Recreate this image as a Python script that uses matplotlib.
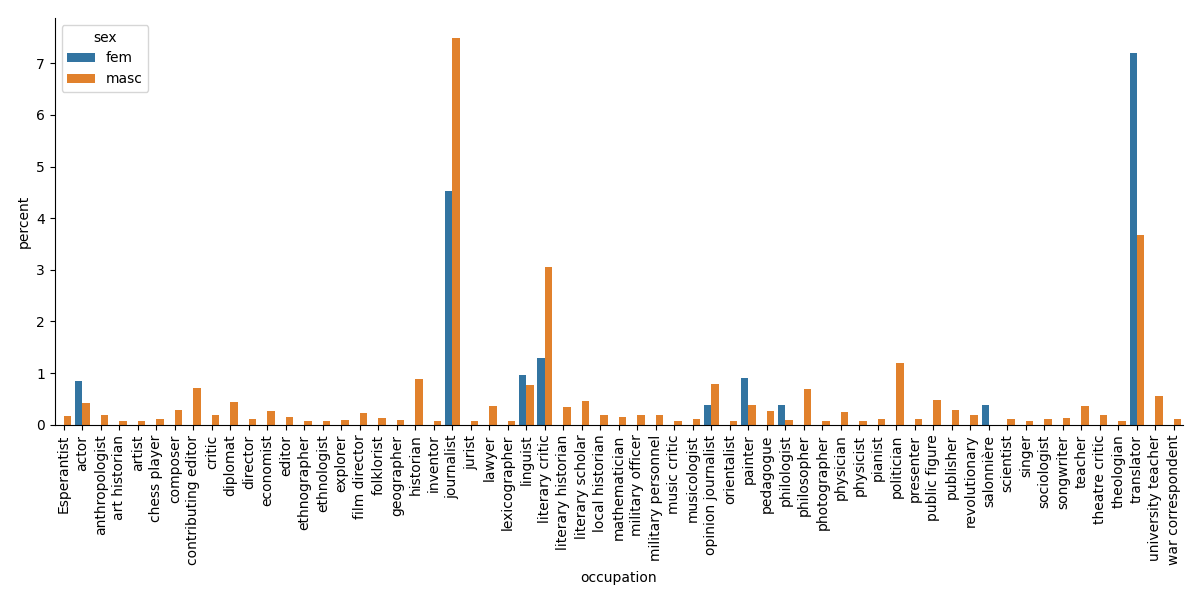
import matplotlib
matplotlib.use("Agg")
import matplotlib.pyplot as plt
import numpy as np

occupations = ["Esperantist", "actor", "anthropologist", "art historian", "artist", "chess player",
               "composer", "contributing editor", "critic", "diplomat", "director", "economist",
               "editor", "ethnographer", "ethnologist", "explorer", "film director", "folklorist",
               "geographer", "historian", "inventor", "journalist", "jurist", "lawyer",
               "lexicographer", "linguist", "literary critic", "literary historian", "literary scholar",
               "local historian", "mathematician", "military officer", "military personnel",
               "music critic", "musicologist", "opinion journalist", "orientalist", "painter",
               "pedagogue", "philologist", "philosopher", "photographer", "physician", "physicist",
               "pianist", "politician", "presenter", "public figure", "publisher", "revolutionary",
               "salonnière", "scientist", "singer", "sociologist", "songwriter", "teacher",
               "theatre critic", "theologian", "translator", "university teacher", "war correspondent"]

fem_values = {"actor": 0.85, "journalist": 4.53, "linguist": 0.97, "literary critic": 1.30,
              "opinion journalist": 0.39, "painter": 0.91, "philologist": 0.39,
              "salonnière": 0.39, "translator": 7.19}

masc_values = {"Esperantist": 0.17, "actor": 0.43, "anthropologist": 0.19, "art historian": 0.077,
               "artist": 0.077, "chess player": 0.116, "composer": 0.29, "contributing editor": 0.72,
               "critic": 0.19, "diplomat": 0.445, "director": 0.116, "economist": 0.27,
               "editor": 0.155, "ethnographer": 0.077, "ethnologist": 0.077, "explorer": 0.097,
               "film director": 0.23, "folklorist": 0.135, "geographer": 0.097, "historian": 0.89,
               "inventor": 0.077, "journalist": 7.49, "jurist": 0.077, "lawyer": 0.37,
               "lexicographer": 0.077, "linguist": 0.77, "literary critic": 3.06,
               "literary historian": 0.35, "literary scholar": 0.46, "local historian": 0.19,
               "mathematician": 0.155, "military officer": 0.19, "military personnel": 0.19,
               "music critic": 0.077, "musicologist": 0.116, "opinion journalist": 0.79,
               "orientalist": 0.077, "painter": 0.39, "pedagogue": 0.27, "philologist": 0.097,
               "philosopher": 0.70, "photographer": 0.077, "physician": 0.25, "physicist": 0.077,
               "pianist": 0.116, "politician": 1.20, "presenter": 0.116, "public figure": 0.48,
               "publisher": 0.29, "revolutionary": 0.19, "scientist": 0.116, "singer": 0.077,
               "sociologist": 0.116, "songwriter": 0.135, "teacher": 0.37, "theatre critic": 0.19,
               "theologian": 0.077, "translator": 3.67, "university teacher": 0.56,
               "war correspondent": 0.116}

sexes = ["fem", "masc"]
colors = ["#3274a1", "#e1812c"]

fig, ax = plt.subplots(figsize=(12, 6), dpi=100)
x = np.arange(len(occupations))
w = 0.4
for i, (s, vals, c) in enumerate(zip(sexes, [fem_values, masc_values], colors)):
    xs = [xi for xi, o in zip(x, occupations) if o in vals]
    hs = [vals[o] for o in occupations if o in vals]
    ax.bar(np.array(xs) + (i - 0.5) * w, hs, width=w, color=c, label=s)

ax.set_xticks(x)
ax.set_xticklabels(occupations, rotation=90, fontsize=10)
ax.set_xlim(-0.5, len(occupations) - 0.5)
ax.set_ylim(0, 7.875)
ax.set_xlabel("occupation")
ax.set_ylabel("percent")
ax.spines["top"].set_visible(False)
ax.spines["right"].set_visible(False)
ax.legend(title="sex", loc="upper left")
fig.subplots_adjust(left=0.0455, right=0.986, top=0.97, bottom=0.292)
fig.savefig("out.png")
